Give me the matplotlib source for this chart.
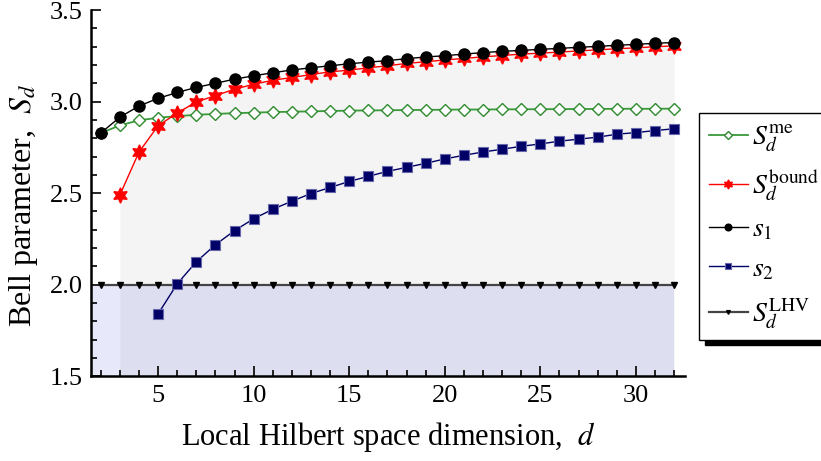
import numpy as np
import matplotlib
matplotlib.use("Agg")
import matplotlib.pyplot as plt
from matplotlib.patches import Rectangle
from matplotlib.ticker import MultipleLocator

plt.rcParams["font.family"] = ["Liberation Serif", "DejaVu Serif"]
plt.rcParams["mathtext.fontset"] = "stix"

d = np.arange(2, 33)

S_me = [2.828, 2.870, 2.898, 2.912, 2.921, 2.928, 2.933, 2.937, 2.940, 2.943,
        2.945, 2.947, 2.949, 2.951, 2.952, 2.953, 2.954, 2.955, 2.956, 2.957,
        2.957, 2.958, 2.958, 2.959, 2.959, 2.960, 2.960, 2.961, 2.961, 2.961,
        2.962]
# bound starts at d=3
d_bound = np.arange(3, 33)
S_bound = [2.489, 2.724, 2.868, 2.938, 2.998, 3.033, 3.068, 3.095,
           3.117, 3.132, 3.148, 3.163, 3.172, 3.185, 3.196, 3.209, 3.218, 3.228,
           3.236, 3.245, 3.252, 3.260, 3.265, 3.271, 3.277, 3.283, 3.289, 3.294,
           3.300, 3.305]
s1 = [2.828, 2.915, 2.976, 3.018, 3.050, 3.078, 3.100, 3.123, 3.141,
      3.158, 3.173, 3.185, 3.196, 3.207, 3.216, 3.224, 3.235, 3.244, 3.251,
      3.260, 3.268, 3.275, 3.280, 3.286, 3.291, 3.297, 3.302, 3.308, 3.313,
      3.319, 3.323]
# s2 starts at d=5
d_s2 = np.arange(5, 33)
s2 = [1.840, 2.004, 2.125, 2.218, 2.295, 2.360,
      2.412, 2.456, 2.498, 2.531, 2.564, 2.592, 2.619, 2.641, 2.663, 2.687,
      2.707, 2.725, 2.740, 2.756, 2.769, 2.784, 2.795, 2.806, 2.822, 2.831,
      2.842, 2.852]
S_lhv = [2.0] * len(d)

fig = plt.figure(figsize=(8.21, 4.61), dpi=100)
ax = fig.add_axes([0.111, 0.184, 0.723, 0.794])
xmin, xmax = 1.5, 32.55
ymin, ymax = 1.5, 3.5

# shaded regions
ax.fill_between(d_bound, ymin, S_bound, color="#f4f4f4", lw=0, zorder=0)
ax.fill_between([xmin, d[-1]], ymin, 2.0, color=(0.4, 0.4, 0.9), alpha=0.15,
                lw=0, zorder=0.5)

star = (6, 1, 0)
ax.plot(d, S_me, color="#3a9a3a", lw=1.3, marker="D", ms=6.5, mfc="white",
        mec="#2e8b2e", mew=1.0, label=r"$S_d^{\mathrm{me}}$", zorder=3)
ax.plot(d_bound, S_bound, color="red", lw=1.0, marker=star, ms=11,
        mfc="red", mec="red", label=r"$S_d^{\mathrm{bound}}$", zorder=4)
ax.plot(d, s1, color="black", lw=1.0, marker="o", ms=8, mfc="black",
        mec="black", label=r"$s_1$", zorder=5)
ax.plot(d_s2, s2, color="#000066", lw=1.0, marker="s", ms=7, mfc="#000066",
        mec="#6666aa", mew=0.8, label=r"$s_2$", zorder=5)
ax.plot(d, S_lhv, color="#444444", lw=1.6, marker="v", ms=4.5, mfc="black",
        mec="black", label=r"$S_d^{\mathrm{LHV}}$", zorder=4)

ax.set_xlim(xmin, xmax)
ax.set_ylim(ymin, ymax)
ax.xaxis.set_major_locator(MultipleLocator(5))
ax.xaxis.set_minor_locator(MultipleLocator(1))
ax.yaxis.set_major_locator(MultipleLocator(0.5))
ax.yaxis.set_minor_locator(MultipleLocator(0.1))
ax.yaxis.set_major_formatter(plt.FuncFormatter(lambda v, p: f"{v:.1f}"))
ax.tick_params(which="both", direction="in", labelsize=19, width=1.2)
ax.tick_params(which="major", length=7, pad=6)
ax.tick_params(which="minor", length=4)
for s in ["top", "right"]:
    ax.spines[s].set_visible(False)
for s in ["left", "bottom"]:
    ax.spines[s].set_linewidth(1.8)
ax.set_facecolor("none")

ax.set_xlabel(r"Local Hilbert space dimension,  $d$", fontsize=22, labelpad=10)
ax.set_ylabel(r"Bell parameter,  $S_d$", fontsize=23)
ax.yaxis.set_label_coords(-0.086, 0.465)

leg = fig.legend(loc="upper left", bbox_to_anchor=(699 / 821, 1 - 113 / 461),
                 fontsize=20, frameon=True, fancybox=False, edgecolor="black",
                 handlelength=1.4, handletextpad=0.15, labelspacing=0.5,
                 borderpad=0.35, borderaxespad=0, markerscale=0.6)
leg.get_frame().set_linewidth(1.0)
leg.get_frame().set_alpha(1)

# drop shadow under the legend box
fig.canvas.draw()
bb = leg.get_window_extent()
fig.patches.append(Rectangle((bb.x0 + 6, bb.y0 - 5), bb.width, bb.height,
                             transform=None, color="black", zorder=-1))
leg.set_zorder(10)

fig.savefig("out.png", dpi=100)
